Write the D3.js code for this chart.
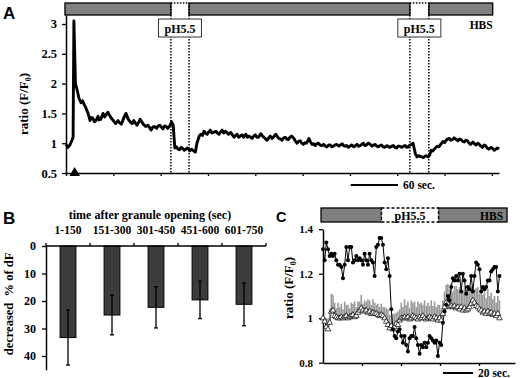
<html lang="en">

<head>
  <meta charset="UTF-8">
  <title>Granule pH5.5 response</title>
  <script src="https://d3js.org/d3.v7.min.js"></script>
  <style>
    body { margin: 0; background: #fff; }
    text { font-family: "Liberation Serif", "Times New Roman", serif; font-weight: bold; fill: #000; }
    .letter { font-family: "Liberation Sans", Arial, sans-serif; }
  </style>
</head>

<body>
  <svg id="fig" width="520" height="378"></svg>
  <script>
    // ---- panel A : single trace, [sec, F/F0]
    const traceA = [[0,0.98],[2.5,0.93],[5,0.97],[7.6,1.05],[9,1.1],[10,3.05],[12,2.0],[14,1.9],[16.5,1.75],[19,1.68],
      [21,1.71],[23,1.65],[25,1.6],[28,1.5],[30.5,1.38],[32,1.43],[34,1.42],[36,1.36],[38,1.38],[40.6,1.45],[42,1.39],[44,1.4],[47,1.5],[49,1.44],[51,1.48],
      [53,1.52],[56,1.45],[58,1.41],[60,1.38],[63,1.33],[66,1.38],[68,1.34],[70,1.32],[72,1.38],[74,1.45],[76,1.5],[79,1.4],[82,1.35],
      [84,1.33],[86,1.38],[88,1.34],[90,1.3],[92,1.35],[94,1.4],[96,1.36],[98,1.32],[101,1.28],[104,1.3],[106,1.26],[108,1.22],[110,1.27],[112,1.28],[115,1.25],[117,1.29],[119,1.3],
      [121,1.27],[123,1.24],[125,1.29],[127,1.28],[129,1.25],[132,1.3],[134,1.36],[136,1.3],[137,1.1],[138,0.92],[140,0.94],[142,0.9],[144,0.89],[146,0.93],
      [148,0.91],[150,0.88],[152,0.9],[154,0.92],[157,0.87],[159,0.9],[161,0.88],[164,0.85],[166,1.0],[169,1.12],[171,1.15],[173,1.13],[175,1.2],[177,1.17],[179,1.15],
      [181,1.19],[183,1.22],[185,1.17],[187,1.18],[190,1.2],[192,1.17],[194,1.15],[196,1.19],[198,1.22],[200,1.17],[202,1.2],[204,1.18],[206,1.15],[209,1.18],[211,1.14],[213,1.1],[215,1.13],[217,1.15],
      [219,1.1],[221,1.12],[223,1.14],[225,1.1],[228,1.15],[230,1.1],[232,1.12],[234,1.1],[236,1.08],[238,1.12],[240,1.14],[242,1.1],[244,1.1],[247,1.16],[249,1.12],[251,1.1],[253,1.07],[255,1.05],
      [257,1.09],[259,1.12],[261,1.08],[263,1.1],[266,1.15],[268,1.11],[270,1.08],[272,1.07],[274,1.05],[276,1.09],[278,1.1],[280,1.07],[282,1.06],[284,1.1],[286,1.12],[289,1.08],[291,1.03],[293,1.0],
      [295,1.03],[297,1.04],[299,1.0],[301,0.98],[303,1.01],[305,1.0],[308,1.08],[310,1.02],[312,0.98],[314,0.99],[316,0.96],[318,0.99],[320,1.0],[322,0.97],[324,0.96],[327,0.98],[329,0.95],[331,0.94],
      [333,0.97],[335,0.97],[337,0.94],[339,0.95],[341,0.97],[343,0.98],[346,0.95],[348,0.97],[350,0.99],[352,0.96],[354,0.95],[356,0.96],[358,0.93],[360,0.95],[362,0.97],[365,0.94],[367,0.96],[369,0.98],
      [371,0.95],[373,0.96],[375,0.98],[377,1.0],[379,0.96],[381,0.97],[383,1.0],[385,0.99],[388,0.95],[390,0.97],[392,0.98],[394,0.95],[396,0.94],[398,0.96],[400,0.97],[402,0.94],[404,0.93],[407,0.96],
      [409,0.94],[411,0.93],[413,0.95],[415,0.96],[417,0.93],[419,0.92],[421,0.95],[423,0.95],[426,0.93],[428,0.95],[430,0.96],[432,0.93],[434,0.94],[436,0.97],[438,0.98],[440,1.0],[443,0.82],
      [445,0.77],[447,0.79],[449,0.78],[451,0.77],[453,0.76],[455,0.78],[457,0.79],[459,0.77],[461,0.8],[463,0.88],[465,0.87],[467,0.9],[469,0.93],[471,0.95],[473,0.94],[475,0.98],[478,1.03],
      [480,1.01],[482,1.05],[484,1.07],[486,1.08],[488,1.05],[490,1.06],[492,1.09],[494,1.07],[497,1.04],[499,1.07],[501,1.06],[503,1.03],[505,1.02],[507,1.05],[509,1.04],[511,1.0],[513,0.98],[516,1.02],
      [518,0.99],[520,0.97],[522,1.0],[524,0.98],[526,0.95],[528,0.93],[530,0.97],[532,0.96],[534,0.92],[536,0.9],[539,0.93],[541,0.91],[543,0.88],[545,0.9],[547,0.92],[549,0.9]];
    const phWindowsA = [[133, 156], [436, 460]];
    const openingA = 11;
    const yTicksA = [0.5, 1, 1.5, 2, 2.5, 3];

    // ---- panel B : decrease of dF by time after opening
    const groupsB = ["1-150", "151-300", "301-450", "451-600", "601-750"];
    const meanB = [33.3, 25.1, 22.3, 19.6, 21.2];
    const sdB = [10.0, 7.2, 7.5, 6.8, 7.8];
    const yTicksB = [0, 10, 20, 30, 40];

    // ---- panel C : granule (filled) vs control (open) traces, 1.11 s frames
    const dtC = 1.11;
    const granuleC = [1.31,1.26,1.34,1.31,1.28,1.29,1.28,1.29,1.26,1.24,
      1.24,1.23,1.18,1.24,1.32,1.26,1.32,1.32,1.25,1.26,
      1.28,1.26,1.27,1.26,1.24,1.29,1.26,1.24,1.29,1.26,
      1.25,1.19,1.32,1.33,1.36,1.36,1.33,1.25,1.22,1.27,
      1.19,1.04,0.95,0.92,0.91,0.94,0.95,0.92,0.89,0.92,
      0.88,0.85,0.91,0.92,0.92,0.96,0.91,0.88,0.84,0.88,
      0.87,0.89,0.87,0.89,0.92,0.91,0.90,0.89,0.90,0.83,
      0.89,0.88,0.98,1.03,1.06,1.10,1.08,1.14,1.18,1.17,
      1.19,1.17,1.20,1.12,1.20,1.17,1.11,1.14,1.13,1.19,
      1.12,1.19,1.25,1.24,1.22,1.12,1.14,1.13,1.14,1.17,
      1.17,1.21,1.22,1.23,1.23,1.12,1.19];
    const controlC = [1.0,0.985,0.96,0.95,0.98,1.03,1.035,1.01,1.005,1.0,
      1.0,1.005,1.0,1.005,1.01,1.0,1.005,1.01,1.015,1.005,
      1.01,1.025,1.035,1.045,1.035,1.03,1.035,1.025,1.03,1.02,
      1.025,1.02,1.02,1.015,1.01,1.015,1.01,1.0,0.985,0.97,
      0.955,0.965,0.95,0.96,0.975,0.97,0.99,1.0,1.0,1.005,
      1.0,1.005,0.995,1.0,1.01,1.005,1.0,0.995,1.005,1.0,
      1.01,1.0,0.995,1.0,1.005,1.0,0.995,1.005,1.0,0.99,
      1.0,0.99,1.02,1.05,1.07,1.065,1.05,1.055,1.05,1.055,
      1.045,1.05,1.04,1.05,1.035,1.045,1.035,1.04,1.05,1.065,
      1.08,1.07,1.055,1.05,1.04,1.035,1.025,1.03,1.02,1.03,
      1.02,1.025,1.015,1.02,1.01,1.02,1.0];
    const semC = [0.0,0.02,0.04,0.05,0.06,0.08,0.07,
      0.06,0.04,0.07,0.05,0.06,0.04,0.07,0.05,0.06,0.04,0.06,0.05,0.07,0.04,0.05,
      0.04,0.06,0.03,0.05,0.04,0.06,0.05,0.04,0.06,0.05,0.04,0.05,0.04,0.05,0.04,
      0.05,0.06,0.07,0.06,0.05,0.07,0.06,0.05,0.06,0.05,
      0.07,0.05,0.08,0.06,0.07,0.05,0.08,0.06,0.07,0.05,0.08,0.06,0.07,0.05,0.08,
      0.06,0.07,0.05,0.08,0.06,0.07,0.05,0.07,0.06,0.05,
      0.06,0.07,0.08,0.09,0.08,0.1,0.07,0.09,0.1,0.08,0.1,0.07,0.09,0.1,0.08,0.1,0.07,
      0.08,0.07,0.06,0.08,0.09,0.07,0.1,0.08,0.09,0.07,0.1,0.08,0.09,0.07,0.08,0.06,0.08,
      0.08];
    const phWindowC = [39, 77];
    const yTicksC = [0.8, 1, 1.2, 1.4];

    const svg = d3.select("#fig");
    const grey = "#808080";

    function styleAxis(g, size) {
      g.select(".domain").attr("stroke", "#000").attr("stroke-width", 1.5);
      g.selectAll(".tick line").attr("stroke", "#000").attr("stroke-width", 1.3);
      g.selectAll("text").attr("font-size", size).attr("fill", "#000")
        .style("font-family", '"Liberation Serif", serif').style("font-weight", "bold");
    }

    function ratioLabel(x, y) {
      const t = svg.append("text")
        .attr("transform", "translate(" + x + "," + y + ") rotate(-90)")
        .attr("text-anchor", "middle").attr("font-size", 13);
      t.append("tspan").text("ratio (F/F");
      t.append("tspan").attr("font-size", 8).attr("dy", 3).text("0");
      t.append("tspan").attr("dy", -3).text(")");
    }

    // ================= A =================
    const xA = d3.scaleLinear().domain([0, 549]).range([66, 499]);
    const yA = d3.scaleLinear().domain([0.5, 3.151]).range([173, 15]);
    const barA = { y: 3, h: 12, start: -1.3, end: 541 };

    // grey HBS segments between the pH windows
    const segA = [[barA.start, phWindowsA[0][0]], [phWindowsA[0][1], phWindowsA[1][0]], [phWindowsA[1][1], barA.end]];
    svg.selectAll("rect.segA").data(segA).join("rect")
      .attr("class", "segA")
      .attr("x", d => xA(d[0])).attr("y", barA.y)
      .attr("width", d => xA(d[1]) - xA(d[0])).attr("height", barA.h)
      .attr("fill", grey).attr("stroke", "#000").attr("stroke-width", 1.3);

    svg.selectAll("path.phTopA").data(phWindowsA).join("path")
      .attr("class", "phTopA")
      .attr("d", d => "M" + xA(d[0]) + "," + barA.y + "H" + xA(d[1]))
      .attr("stroke", "#000").attr("stroke-width", 1.3).attr("stroke-dasharray", "1.5,1.5").attr("fill", "none");

    // dotted window edges
    const edgesA = phWindowsA.flat();
    svg.selectAll("line.edgeA").data(edgesA).join("line")
      .attr("class", "edgeA")
      .attr("x1", d => xA(d)).attr("x2", d => xA(d))
      .attr("y1", barA.y).attr("y2", yA(0.5) + 1)
      .attr("stroke", "#000").attr("stroke-width", 1.5).attr("stroke-dasharray", "1.5,1.5");

    // pH5.5 labels
    const phA = svg.selectAll("g.phA").data(phWindowsA).join("g")
      .attr("class", "phA")
      .attr("transform", d => "translate(" + xA((d[0] + d[1]) / 2) + ",0)");
    phA.append("rect").attr("x", -21.5).attr("y", 19).attr("width", 43).attr("height", 18)
      .attr("fill", "#fff").attr("stroke", "#333").attr("stroke-width", 1);
    phA.append("text").attr("text-anchor", "middle").attr("y", 32.5).attr("font-size", 12).text("pH5.5");

    svg.append("text").attr("x", xA(barA.end)).attr("y", 28.5).attr("text-anchor", "end")
      .attr("font-size", 11.5).text("HBS");

    const axAy = svg.append("g").attr("transform", "translate(66,0)")
      .call(d3.axisLeft(yA).tickValues(yTicksA).tickSize(4).tickSizeOuter(0).tickPadding(5).tickFormat(d3.format("")));
    styleAxis(axAy, 12.5);
    const axAx = svg.append("g").attr("transform", "translate(0,173)")
      .call(d3.axisBottom(xA).tickValues(d3.range(0, 549, 60)).tickSize(3).tickSizeOuter(0).tickFormat(""));
    styleAxis(axAx, 12);

    const lineA = d3.line().x(d => xA(d[0])).y(d => yA(d[1]));
    svg.append("path").datum(traceA)
      .attr("d", lineA).attr("fill", "none")
      .attr("stroke", "#000").attr("stroke-width", 2.9).attr("stroke-linejoin", "round");

    // granule opening marker
    svg.append("path")
      .attr("d", d3.symbol(d3.symbolTriangle).size(48))
      .attr("transform", "translate(" + xA(openingA) + ",173)")
      .attr("fill", "#000");

    ratioLabel(28, 104);

    // 60 sec scale bar
    svg.append("line").attr("x1", xA(361)).attr("x2", xA(421)).attr("y1", 185).attr("y2", 185)
      .attr("stroke", "#000").attr("stroke-width", 2);
    svg.append("text").attr("x", 403).attr("y", 189).attr("font-size", 11.5).text("60 sec.");

    svg.append("text").attr("class", "letter").attr("x", 3).attr("y", 19).attr("font-size", 17).text("A");

    // ================= B =================
    const slotsB = d3.scaleBand().domain(groupsB).range([46, 266]);
    const xB = d3.scaleBand().domain(groupsB).range([46, 266]).paddingInner(0.64).paddingOuter(0.32);
    const yB = d3.scaleLinear().domain([0, 45]).range([246, 369.75]);

    svg.selectAll("rect.barB").data(groupsB).join("rect")
      .attr("class", "barB")
      .attr("x", d => xB(d)).attr("y", yB(0))
      .attr("width", xB.bandwidth())
      .attr("height", (d, i) => yB(meanB[i]) - yB(0))
      .attr("fill", "#3c3c3c").attr("stroke", "#000").attr("stroke-width", 1);

    const errB = svg.selectAll("g.errB").data(groupsB).join("g")
      .attr("class", "errB")
      .attr("transform", d => "translate(" + (xB(d) + xB.bandwidth() / 2) + ",0)");
    errB.append("line").attr("y1", (d, i) => yB(meanB[i] - sdB[i])).attr("y2", (d, i) => yB(meanB[i] + sdB[i]))
      .attr("stroke", "#000").attr("stroke-width", 1.3);
    errB.append("line").attr("x1", -2).attr("x2", 2)
      .attr("y1", (d, i) => yB(meanB[i] + sdB[i])).attr("y2", (d, i) => yB(meanB[i] + sdB[i]))
      .attr("stroke", "#000").attr("stroke-width", 1.3);
    errB.append("line").attr("x1", -2).attr("x2", 2)
      .attr("y1", (d, i) => yB(meanB[i] - sdB[i])).attr("y2", (d, i) => yB(meanB[i] - sdB[i]))
      .attr("stroke", "#000").attr("stroke-width", 1.3);

    const axBy = svg.append("g").attr("transform", "translate(46,0)")
      .call(d3.axisLeft(yB).tickValues(yTicksB).tickSize(4).tickSizeOuter(0).tickPadding(6));
    styleAxis(axBy, 12);

    const axBx = svg.append("g").attr("transform", "translate(0,246)")
      .call(d3.axisTop(xB).tickSize(0).tickPadding(12).tickSizeOuter(0));
    axBx.select(".domain").remove();
    styleAxis(axBx, 11.5);
    svg.append("line").attr("x1", 46).attr("x2", 266).attr("y1", 246).attr("y2", 246)
      .attr("stroke", "#000").attr("stroke-width", 1.5);
    svg.selectAll("line.slotB").data(groupsB.map(g => slotsB(g)).concat([266])).join("line")
      .attr("class", "slotB")
      .attr("x1", d => d).attr("x2", d => d).attr("y1", 246).attr("y2", 243)
      .attr("stroke", "#000").attr("stroke-width", 1.3);

    svg.append("text").attr("x", 150).attr("y", 219).attr("text-anchor", "middle")
      .attr("font-size", 12).text("time after granule opening (sec)");
    svg.append("text").attr("transform", "translate(13,304) rotate(-90)").attr("text-anchor", "middle")
      .attr("font-size", 12.5).attr("xml:space", "preserve").text("decreased  % of dF");
    svg.append("text").attr("class", "letter").attr("x", 3).attr("y", 224).attr("font-size", 17).text("B");

    // ================= C =================
    const xC = d3.scaleLinear().domain([0, 128]).range([323, 515]);
    const yC = d3.scaleLinear().domain([0.8, 1.4]).range([362.7, 229.2]);
    const barC = { y: 208, h: 14, start: -1.3, end: 122.7 };

    svg.selectAll("rect.segC").data([[barC.start, phWindowC[0]], [phWindowC[1], barC.end]]).join("rect")
      .attr("class", "segC")
      .attr("x", d => xC(d[0])).attr("y", barC.y)
      .attr("width", d => xC(d[1]) - xC(d[0])).attr("height", barC.h)
      .attr("fill", grey).attr("stroke", "#000").attr("stroke-width", 1.3);
    svg.append("rect")
      .attr("x", xC(phWindowC[0])).attr("y", barC.y)
      .attr("width", xC(phWindowC[1]) - xC(phWindowC[0])).attr("height", barC.h)
      .attr("fill", "#fff").attr("stroke", "#000").attr("stroke-width", 1.3).attr("stroke-dasharray", "3,2");
    svg.append("text").attr("x", xC((phWindowC[0] + phWindowC[1]) / 2)).attr("y", 219.5)
      .attr("text-anchor", "middle").attr("font-size", 12).text("pH5.5");
    svg.append("text").attr("x", xC(barC.end) - 4).attr("y", 219.5).attr("text-anchor", "end")
      .attr("font-size", 11.5).text("HBS");

    const axCy = svg.append("g").attr("transform", "translate(323,0)")
      .call(d3.axisLeft(yC).tickValues(yTicksC).tickSize(4).tickSizeOuter(0).tickPadding(6).tickFormat(d3.format("")));
    styleAxis(axCy, 11);
    const axCx = svg.append("g").attr("transform", "translate(0,363)")
      .call(d3.axisBottom(xC).tickValues([26, 52, 78, 104]).tickSize(3).tickSizeOuter(0).tickFormat(""));
    styleAxis(axCx, 11);

    // grey SEM bars on control trace
    svg.selectAll("line.semC").data(controlC).join("line")
      .attr("class", "semC")
      .attr("x1", (d, i) => xC(i * dtC)).attr("x2", (d, i) => xC(i * dtC))
      .attr("y1", d => yC(d)).attr("y2", (d, i) => yC(d + semC[i]))
      .attr("stroke", "#9a9a9a").attr("stroke-width", 1.6);

    const lineC = d3.line().x((d, i) => xC(i * dtC)).y(d => yC(d));
    svg.append("path").datum(controlC).attr("d", lineC)
      .attr("fill", "none").attr("stroke", "#222").attr("stroke-width", 0.8);
    svg.append("path").datum(granuleC).attr("d", lineC)
      .attr("fill", "none").attr("stroke", "#000").attr("stroke-width", 1);

    svg.selectAll("path.triC").data(controlC).join("path")
      .attr("class", "triC")
      .attr("d", d3.symbol(d3.symbolTriangle).size(14))
      .attr("transform", (d, i) => "translate(" + xC(i * dtC) + "," + yC(d) + ")")
      .attr("fill", "#fff").attr("stroke", "#000").attr("stroke-width", 0.7);
    svg.selectAll("circle.dotC").data(granuleC).join("circle")
      .attr("class", "dotC")
      .attr("cx", (d, i) => xC(i * dtC)).attr("cy", d => yC(d)).attr("r", 2)
      .attr("fill", "#000");

    ratioLabel(293, 288);

    svg.append("line").attr("x1", xC(80)).attr("x2", xC(100)).attr("y1", 373).attr("y2", 373)
      .attr("stroke", "#000").attr("stroke-width", 2);
    svg.append("text").attr("x", 478).attr("y", 377).attr("font-size", 11.5).text("20 sec.");

    svg.append("text").attr("class", "letter").attr("x", 276).attr("y", 222).attr("font-size", 14.5).text("C");
  </script>
</body>
